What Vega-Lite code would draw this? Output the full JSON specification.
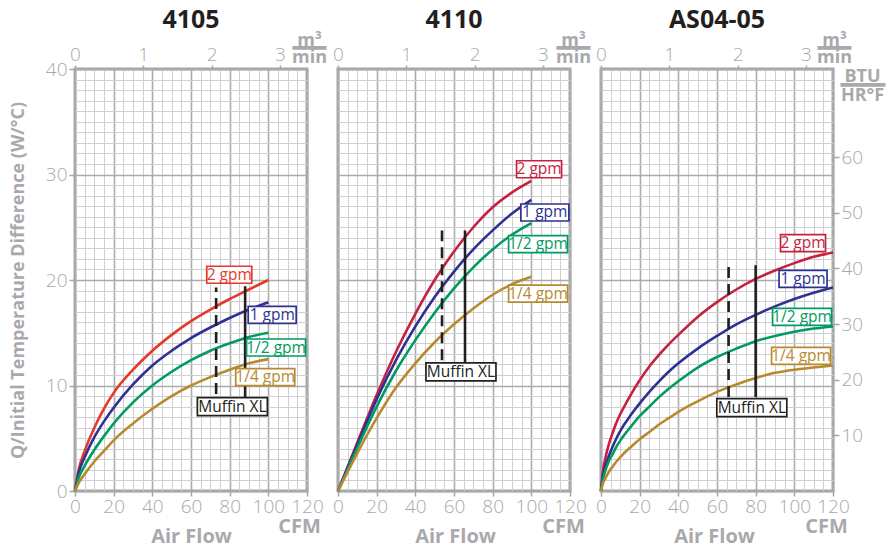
{
  "$schema": "https://vega.github.io/schema/vega-lite/v6.json",
  "padding": {"left": 7, "top": 6, "right": 5, "bottom": 5},
  "config": {
    "view": {"stroke": "#a6a6a9", "strokeWidth": 3},
    "font": "Open Sans"
  },
  "datasets": {
    "curves": [
      {"p":"4105","s":"2 gpm","cfm":0,"w":0},{"p":"4105","s":"2 gpm","cfm":2,"w":2.1},{"p":"4105","s":"2 gpm","cfm":5,"w":3.8},{"p":"4105","s":"2 gpm","cfm":10,"w":6.0},{"p":"4105","s":"2 gpm","cfm":15,"w":7.8},{"p":"4105","s":"2 gpm","cfm":20,"w":9.3},{"p":"4105","s":"2 gpm","cfm":30,"w":11.5},{"p":"4105","s":"2 gpm","cfm":40,"w":13.3},{"p":"4105","s":"2 gpm","cfm":50,"w":14.8},{"p":"4105","s":"2 gpm","cfm":60,"w":16.1},{"p":"4105","s":"2 gpm","cfm":70,"w":17.2},{"p":"4105","s":"2 gpm","cfm":80,"w":18.2},{"p":"4105","s":"2 gpm","cfm":90,"w":19.1},{"p":"4105","s":"2 gpm","cfm":100,"w":20.0},
      {"p":"4105","s":"1 gpm","cfm":0,"w":0},{"p":"4105","s":"1 gpm","cfm":2,"w":1.8},{"p":"4105","s":"1 gpm","cfm":5,"w":3.2},{"p":"4105","s":"1 gpm","cfm":10,"w":5.1},{"p":"4105","s":"1 gpm","cfm":15,"w":6.6},{"p":"4105","s":"1 gpm","cfm":20,"w":7.9},{"p":"4105","s":"1 gpm","cfm":30,"w":10.1},{"p":"4105","s":"1 gpm","cfm":40,"w":11.9},{"p":"4105","s":"1 gpm","cfm":50,"w":13.3},{"p":"4105","s":"1 gpm","cfm":60,"w":14.5},{"p":"4105","s":"1 gpm","cfm":70,"w":15.5},{"p":"4105","s":"1 gpm","cfm":80,"w":16.4},{"p":"4105","s":"1 gpm","cfm":90,"w":17.2},{"p":"4105","s":"1 gpm","cfm":100,"w":17.9},
      {"p":"4105","s":"1/2 gpm","cfm":0,"w":0},{"p":"4105","s":"1/2 gpm","cfm":2,"w":1.3},{"p":"4105","s":"1/2 gpm","cfm":5,"w":2.4},{"p":"4105","s":"1/2 gpm","cfm":10,"w":3.9},{"p":"4105","s":"1/2 gpm","cfm":15,"w":5.2},{"p":"4105","s":"1/2 gpm","cfm":20,"w":6.4},{"p":"4105","s":"1/2 gpm","cfm":30,"w":8.4},{"p":"4105","s":"1/2 gpm","cfm":40,"w":10.0},{"p":"4105","s":"1/2 gpm","cfm":50,"w":11.3},{"p":"4105","s":"1/2 gpm","cfm":60,"w":12.4},{"p":"4105","s":"1/2 gpm","cfm":70,"w":13.3},{"p":"4105","s":"1/2 gpm","cfm":80,"w":14.0},{"p":"4105","s":"1/2 gpm","cfm":90,"w":14.6},{"p":"4105","s":"1/2 gpm","cfm":100,"w":15.0},
      {"p":"4105","s":"1/4 gpm","cfm":0,"w":0},{"p":"4105","s":"1/4 gpm","cfm":2,"w":0.8},{"p":"4105","s":"1/4 gpm","cfm":5,"w":1.6},{"p":"4105","s":"1/4 gpm","cfm":10,"w":2.8},{"p":"4105","s":"1/4 gpm","cfm":15,"w":3.8},{"p":"4105","s":"1/4 gpm","cfm":20,"w":4.8},{"p":"4105","s":"1/4 gpm","cfm":30,"w":6.4},{"p":"4105","s":"1/4 gpm","cfm":40,"w":7.8},{"p":"4105","s":"1/4 gpm","cfm":50,"w":9.0},{"p":"4105","s":"1/4 gpm","cfm":60,"w":10.0},{"p":"4105","s":"1/4 gpm","cfm":70,"w":10.8},{"p":"4105","s":"1/4 gpm","cfm":80,"w":11.5},{"p":"4105","s":"1/4 gpm","cfm":90,"w":12.1},{"p":"4105","s":"1/4 gpm","cfm":100,"w":12.5},
      {"p":"4110","s":"2 gpm","cfm":0,"w":0},{"p":"4110","s":"2 gpm","cfm":10,"w":4.6},{"p":"4110","s":"2 gpm","cfm":20,"w":9.1},{"p":"4110","s":"2 gpm","cfm":30,"w":13.2},{"p":"4110","s":"2 gpm","cfm":40,"w":16.8},{"p":"4110","s":"2 gpm","cfm":50,"w":20.0},{"p":"4110","s":"2 gpm","cfm":60,"w":22.7},{"p":"4110","s":"2 gpm","cfm":70,"w":25.0},{"p":"4110","s":"2 gpm","cfm":80,"w":26.9},{"p":"4110","s":"2 gpm","cfm":90,"w":28.3},{"p":"4110","s":"2 gpm","cfm":100,"w":29.4},
      {"p":"4110","s":"1 gpm","cfm":0,"w":0},{"p":"4110","s":"1 gpm","cfm":10,"w":4.4},{"p":"4110","s":"1 gpm","cfm":20,"w":8.7},{"p":"4110","s":"1 gpm","cfm":30,"w":12.4},{"p":"4110","s":"1 gpm","cfm":40,"w":15.6},{"p":"4110","s":"1 gpm","cfm":50,"w":18.4},{"p":"4110","s":"1 gpm","cfm":60,"w":20.8},{"p":"4110","s":"1 gpm","cfm":70,"w":22.9},{"p":"4110","s":"1 gpm","cfm":80,"w":24.7},{"p":"4110","s":"1 gpm","cfm":90,"w":26.3},{"p":"4110","s":"1 gpm","cfm":100,"w":27.6},
      {"p":"4110","s":"1/2 gpm","cfm":0,"w":0},{"p":"4110","s":"1/2 gpm","cfm":10,"w":4.1},{"p":"4110","s":"1/2 gpm","cfm":20,"w":8.0},{"p":"4110","s":"1/2 gpm","cfm":30,"w":11.4},{"p":"4110","s":"1/2 gpm","cfm":40,"w":14.3},{"p":"4110","s":"1/2 gpm","cfm":50,"w":16.9},{"p":"4110","s":"1/2 gpm","cfm":60,"w":19.2},{"p":"4110","s":"1/2 gpm","cfm":70,"w":21.2},{"p":"4110","s":"1/2 gpm","cfm":80,"w":22.9},{"p":"4110","s":"1/2 gpm","cfm":90,"w":24.3},{"p":"4110","s":"1/2 gpm","cfm":100,"w":25.4},
      {"p":"4110","s":"1/4 gpm","cfm":0,"w":0},{"p":"4110","s":"1/4 gpm","cfm":10,"w":3.6},{"p":"4110","s":"1/4 gpm","cfm":20,"w":6.9},{"p":"4110","s":"1/4 gpm","cfm":30,"w":9.8},{"p":"4110","s":"1/4 gpm","cfm":40,"w":12.1},{"p":"4110","s":"1/4 gpm","cfm":50,"w":14.1},{"p":"4110","s":"1/4 gpm","cfm":60,"w":15.8},{"p":"4110","s":"1/4 gpm","cfm":70,"w":17.3},{"p":"4110","s":"1/4 gpm","cfm":80,"w":18.6},{"p":"4110","s":"1/4 gpm","cfm":90,"w":19.6},{"p":"4110","s":"1/4 gpm","cfm":100,"w":20.3},
      {"p":"AS04-05","s":"2 gpm","cfm":0,"w":0},{"p":"AS04-05","s":"2 gpm","cfm":1,"w":1.9},{"p":"AS04-05","s":"2 gpm","cfm":2,"w":2.9},{"p":"AS04-05","s":"2 gpm","cfm":4,"w":4.4},{"p":"AS04-05","s":"2 gpm","cfm":6,"w":5.5},{"p":"AS04-05","s":"2 gpm","cfm":8,"w":6.5},{"p":"AS04-05","s":"2 gpm","cfm":10,"w":7.3},{"p":"AS04-05","s":"2 gpm","cfm":12,"w":8.0},{"p":"AS04-05","s":"2 gpm","cfm":15,"w":9.0},{"p":"AS04-05","s":"2 gpm","cfm":20,"w":10.5},{"p":"AS04-05","s":"2 gpm","cfm":25,"w":11.8},{"p":"AS04-05","s":"2 gpm","cfm":30,"w":12.9},{"p":"AS04-05","s":"2 gpm","cfm":35,"w":13.9},{"p":"AS04-05","s":"2 gpm","cfm":40,"w":14.8},{"p":"AS04-05","s":"2 gpm","cfm":50,"w":16.5},{"p":"AS04-05","s":"2 gpm","cfm":60,"w":17.9},{"p":"AS04-05","s":"2 gpm","cfm":70,"w":19.1},{"p":"AS04-05","s":"2 gpm","cfm":80,"w":20.1},{"p":"AS04-05","s":"2 gpm","cfm":90,"w":20.9},{"p":"AS04-05","s":"2 gpm","cfm":100,"w":21.6},{"p":"AS04-05","s":"2 gpm","cfm":110,"w":22.2},{"p":"AS04-05","s":"2 gpm","cfm":120,"w":22.6},
      {"p":"AS04-05","s":"1 gpm","cfm":0,"w":0},{"p":"AS04-05","s":"1 gpm","cfm":1,"w":1.4},{"p":"AS04-05","s":"1 gpm","cfm":2,"w":2.2},{"p":"AS04-05","s":"1 gpm","cfm":4,"w":3.3},{"p":"AS04-05","s":"1 gpm","cfm":6,"w":4.2},{"p":"AS04-05","s":"1 gpm","cfm":8,"w":5.0},{"p":"AS04-05","s":"1 gpm","cfm":10,"w":5.7},{"p":"AS04-05","s":"1 gpm","cfm":12,"w":6.3},{"p":"AS04-05","s":"1 gpm","cfm":15,"w":7.1},{"p":"AS04-05","s":"1 gpm","cfm":20,"w":8.3},{"p":"AS04-05","s":"1 gpm","cfm":25,"w":9.4},{"p":"AS04-05","s":"1 gpm","cfm":30,"w":10.4},{"p":"AS04-05","s":"1 gpm","cfm":35,"w":11.3},{"p":"AS04-05","s":"1 gpm","cfm":40,"w":12.1},{"p":"AS04-05","s":"1 gpm","cfm":50,"w":13.5},{"p":"AS04-05","s":"1 gpm","cfm":60,"w":14.7},{"p":"AS04-05","s":"1 gpm","cfm":70,"w":15.8},{"p":"AS04-05","s":"1 gpm","cfm":80,"w":16.7},{"p":"AS04-05","s":"1 gpm","cfm":90,"w":17.5},{"p":"AS04-05","s":"1 gpm","cfm":100,"w":18.2},{"p":"AS04-05","s":"1 gpm","cfm":110,"w":18.8},{"p":"AS04-05","s":"1 gpm","cfm":120,"w":19.3},
      {"p":"AS04-05","s":"1/2 gpm","cfm":0,"w":0},{"p":"AS04-05","s":"1/2 gpm","cfm":1,"w":1.1},{"p":"AS04-05","s":"1/2 gpm","cfm":2,"w":1.8},{"p":"AS04-05","s":"1/2 gpm","cfm":4,"w":2.8},{"p":"AS04-05","s":"1/2 gpm","cfm":6,"w":3.5},{"p":"AS04-05","s":"1/2 gpm","cfm":8,"w":4.2},{"p":"AS04-05","s":"1/2 gpm","cfm":10,"w":4.8},{"p":"AS04-05","s":"1/2 gpm","cfm":12,"w":5.3},{"p":"AS04-05","s":"1/2 gpm","cfm":15,"w":6.0},{"p":"AS04-05","s":"1/2 gpm","cfm":20,"w":7.1},{"p":"AS04-05","s":"1/2 gpm","cfm":25,"w":8.0},{"p":"AS04-05","s":"1/2 gpm","cfm":30,"w":8.9},{"p":"AS04-05","s":"1/2 gpm","cfm":35,"w":9.7},{"p":"AS04-05","s":"1/2 gpm","cfm":40,"w":10.4},{"p":"AS04-05","s":"1/2 gpm","cfm":50,"w":11.7},{"p":"AS04-05","s":"1/2 gpm","cfm":60,"w":12.7},{"p":"AS04-05","s":"1/2 gpm","cfm":70,"w":13.5},{"p":"AS04-05","s":"1/2 gpm","cfm":80,"w":14.2},{"p":"AS04-05","s":"1/2 gpm","cfm":90,"w":14.7},{"p":"AS04-05","s":"1/2 gpm","cfm":100,"w":15.1},{"p":"AS04-05","s":"1/2 gpm","cfm":110,"w":15.4},{"p":"AS04-05","s":"1/2 gpm","cfm":120,"w":15.6},
      {"p":"AS04-05","s":"1/4 gpm","cfm":0,"w":0},{"p":"AS04-05","s":"1/4 gpm","cfm":1,"w":0.7},{"p":"AS04-05","s":"1/4 gpm","cfm":2,"w":1.1},{"p":"AS04-05","s":"1/4 gpm","cfm":4,"w":1.8},{"p":"AS04-05","s":"1/4 gpm","cfm":6,"w":2.3},{"p":"AS04-05","s":"1/4 gpm","cfm":8,"w":2.8},{"p":"AS04-05","s":"1/4 gpm","cfm":10,"w":3.2},{"p":"AS04-05","s":"1/4 gpm","cfm":12,"w":3.6},{"p":"AS04-05","s":"1/4 gpm","cfm":15,"w":4.1},{"p":"AS04-05","s":"1/4 gpm","cfm":20,"w":4.9},{"p":"AS04-05","s":"1/4 gpm","cfm":25,"w":5.6},{"p":"AS04-05","s":"1/4 gpm","cfm":30,"w":6.3},{"p":"AS04-05","s":"1/4 gpm","cfm":35,"w":6.9},{"p":"AS04-05","s":"1/4 gpm","cfm":40,"w":7.5},{"p":"AS04-05","s":"1/4 gpm","cfm":50,"w":8.5},{"p":"AS04-05","s":"1/4 gpm","cfm":60,"w":9.4},{"p":"AS04-05","s":"1/4 gpm","cfm":70,"w":10.1},{"p":"AS04-05","s":"1/4 gpm","cfm":80,"w":10.7},{"p":"AS04-05","s":"1/4 gpm","cfm":90,"w":11.2},{"p":"AS04-05","s":"1/4 gpm","cfm":100,"w":11.5},{"p":"AS04-05","s":"1/4 gpm","cfm":110,"w":11.7},{"p":"AS04-05","s":"1/4 gpm","cfm":120,"w":11.9}
    ],
    "labels": [
      {"p":"4105","s":"2 gpm","cfm":79.8,"w":20.5},{"p":"4105","s":"1 gpm","cfm":102,"w":16.7},{"p":"4105","s":"1/2 gpm","cfm":104,"w":13.6},{"p":"4105","s":"1/4 gpm","cfm":98.4,"w":10.8},{"p":"4105","s":"Muffin XL","cfm":81.4,"w":8.0},
      {"p":"4110","s":"2 gpm","cfm":104,"w":30.5},{"p":"4110","s":"1 gpm","cfm":107,"w":26.4},{"p":"4110","s":"1/2 gpm","cfm":103.5,"w":23.4},{"p":"4110","s":"1/4 gpm","cfm":103.5,"w":18.7},{"p":"4110","s":"Muffin XL","cfm":63.6,"w":11.3},
      {"p":"AS04-05","s":"2 gpm","cfm":104.5,"w":23.5},{"p":"AS04-05","s":"1 gpm","cfm":104.5,"w":20.1},{"p":"AS04-05","s":"1/2 gpm","cfm":104,"w":16.5},{"p":"AS04-05","s":"1/4 gpm","cfm":103.5,"w":12.8},{"p":"AS04-05","s":"Muffin XL","cfm":78,"w":7.9}
    ],
    "muffin": [
      {"p":"4105","kind":"dashed","cfm":73,"lo":9.2,"hi":19.3},{"p":"4105","kind":"solid","cfm":88,"lo":8.9,"hi":19.4},
      {"p":"4110","kind":"dashed","cfm":53.8,"lo":12.4,"hi":24.7},{"p":"4110","kind":"solid","cfm":65.7,"lo":12.1,"hi":24.7},
      {"p":"AS04-05","kind":"dashed","cfm":66,"lo":8.9,"hi":21.4},{"p":"AS04-05","kind":"solid","cfm":80,"lo":8.9,"hi":21.4}
    ]
  },
  "hconcat": [
    {
      "width": 232, "height": 422,
      "title": {"text": "4105", "fontSize": 25, "fontWeight": "bold", "color": "#231f20", "font": "Open Sans", "offset": -2},
      "layer": [
        {
          "data": {"name": "curves"},
          "transform": [{"filter": "datum.p === '4105'"}],
          "mark": {"type": "line", "strokeWidth": 2.6, "interpolate": "monotone"},
          "encoding": {
            "x": {"field": "cfm", "type": "quantitative", "scale": {"domain": [0, 120], "nice": false, "zero": false},
              "axis": {"orient": "bottom", "values": [0,5,10,15,20,25,30,35,40,45,50,55,60,65,70,75,80,85,90,95,100,105,110,115,120],
                "labelExpr": "datum.value % 20 === 0 ? datum.label : ''", "grid": true,
                "gridColor": {"condition": {"test": "datum.value % 20 === 0", "value": "#ababad"}, "value": "#cfcfd1"},
                "gridWidth": {"condition": {"test": "datum.value % 20 === 0", "value": 1.6}, "value": 1},
                "tickColor": {"condition": {"test": "datum.value % 20 === 0", "value": "#a6a6a9"}, "value": "transparent"},
                "tickSize": 5, "tickWidth": 1.5, "domain": false,
                "labelFont": "Open Sans", "labelFontSize": 19, "labelFontWeight": 300, "labelColor": "#a9a9ab", "labelPadding": 1, "labelFlush": false, "labelOverlap": false, "labelBound": false,
                "title": "Air Flow", "titleFont": "Open Sans", "titleFontSize": 20, "titleFontWeight": "bold", "titleColor": "#a9a9ab", "titleX": 116, "titleY": 45, "titleBaseline": "middle", "titleAlign": "center"}},
            "y": {"field": "w", "type": "quantitative", "scale": {"domain": [0, 40], "nice": false},
              "axis": {"orient": "left", "values": [0,1,2,3,4,5,6,7,8,9,10,11,12,13,14,15,16,17,18,19,20,21,22,23,24,25,26,27,28,29,30,31,32,33,34,35,36,37,38,39,40],
                "labelExpr": "datum.value % 10 === 0 ? datum.label : ''", "grid": true,
                "gridColor": {"condition": {"test": "datum.value % 10 === 0", "value": "#ababad"}, "value": "#cfcfd1"},
                "gridWidth": {"condition": {"test": "datum.value % 10 === 0", "value": 1.6}, "value": 1},
                "tickColor": {"condition": {"test": "datum.value % 10 === 0", "value": "#a6a6a9"}, "value": "transparent"},
                "tickSize": 6, "tickWidth": 1.5, "domain": false,
                "labelFont": "Open Sans", "labelFontSize": 19, "labelFontWeight": 300, "labelColor": "#a9a9ab", "labelPadding": 2, "labelFlush": false, "labelOverlap": false, "labelBound": false,
                "title": "Q/Initial Temperature Difference (W/°C)", "titleLimit": 600, "titleFont": "Open Sans", "titleFontSize": 18, "titleFontWeight": "bold", "titleColor": "#a9a9ab", "titleX": -57, "titleY": 211, "titleBaseline": "middle", "titleAlign": "center", "titleAngle": -90}},
            "color": {"field": "s", "type": "nominal", "legend": null,
              "scale": {"domain": ["2 gpm","1 gpm","1/2 gpm","1/4 gpm","Muffin XL"], "range": ["#e5392b","#2f3192","#009a62","#b88a2f","#231f20"]}}
          }
        },
        {
          "data": {"name": "muffin"},
          "transform": [{"filter": "datum.p === '4105'"}],
          "mark": {"type": "rule", "color": "#231f20", "strokeWidth": 2.6},
          "encoding": {
            "x": {"field": "cfm", "type": "quantitative",
              "axis": {"orient": "top", "values": [0, 35.3147, 70.6294, 105.9441], "labelExpr": "format(round(datum.value/35.3147), 'd')",
                "grid": false, "domain": false, "tickSize": 4, "tickWidth": 1.5, "tickColor": "#a6a6a9",
                "labelFont": "Open Sans", "labelFontSize": 19, "labelFontWeight": 300, "labelColor": "#a9a9ab", "labelPadding": 1, "labelFlush": false, "labelOverlap": false, "labelBound": false,
                "title": ["m³", "━━━", "min"], "titleFont": "Open Sans", "titleFontSize": 18, "titleFontWeight": "bold", "titleColor": "#a9a9ab", "titleLineHeight": 8.65, "titleX": 234, "titleY": -24, "titleBaseline": "alphabetic", "titleAlign": "center", "titleAngle": 0}},
            "y": {"field": "lo", "type": "quantitative", "axis": null},
            "y2": {"field": "hi"},
            "strokeDash": {"field": "kind", "type": "nominal", "legend": null, "scale": {"domain": ["dashed","solid"], "range": [[11,6],[1,0]]}}
          }
        },
        {
          "data": {"name": "labels"},
          "transform": [{"filter": "datum.p === '4105'"}],
          "mark": {"type": "point", "filled": false, "fill": "white", "fillOpacity": 1, "opacity": 1, "strokeWidth": 1.7, "size": 400},
          "encoding": {
            "x": {"field": "cfm", "type": "quantitative", "axis": null},
            "y": {"field": "w", "type": "quantitative", "axis": null},
            "color": {"field": "s", "type": "nominal", "legend": null},
            "shape": {"field": "s", "type": "nominal", "legend": null,
              "scale": {"domain": ["2 gpm","1 gpm","1/2 gpm","1/4 gpm","Muffin XL"], "range": ["M-2.25,-0.85H2.25V0.85H-2.25Z","M-2.4,-0.85H2.4V0.85H-2.4Z","M-2.95,-0.85H2.95V0.85H-2.95Z","M-2.95,-0.85H2.95V0.85H-2.95Z","M-3.5,-0.9H3.5V0.9H-3.5Z"]}}
          }
        },
        {
          "data": {"name": "labels"},
          "transform": [{"filter": "datum.p === '4105'"}],
          "mark": {"type": "text", "font": "Open Sans", "fontSize": 15.5, "fontWeight": 500, "baseline": "middle", "align": "center"},
          "encoding": {
            "x": {"field": "cfm", "type": "quantitative",
              "axis": {"orient": "bottom", "labels": false, "ticks": false, "domain": false, "grid": false,
                "title": "CFM", "titleFont": "Open Sans", "titleFontSize": 20, "titleFontWeight": "bold", "titleColor": "#a9a9ab", "titleX": 224, "titleY": 35, "titleBaseline": "middle", "titleAlign": "center"}},
            "y": {"field": "w", "type": "quantitative", "axis": null},
            "text": {"field": "s"},
            "color": {"field": "s", "type": "nominal", "legend": null}
          }
        }
      ],
      "resolve": {"axis": {"x": "independent", "y": "independent"}}
    },
    {
      "width": 232, "height": 422,
      "title": {"text": "4110", "fontSize": 25, "fontWeight": "bold", "color": "#231f20", "font": "Open Sans", "offset": -2},
      "layer": [
        {
          "data": {"name": "curves"},
          "transform": [{"filter": "datum.p === '4110'"}],
          "mark": {"type": "line", "strokeWidth": 2.6, "interpolate": "monotone"},
          "encoding": {
            "x": {"field": "cfm", "type": "quantitative", "scale": {"domain": [0, 120], "nice": false, "zero": false},
              "axis": {"orient": "bottom", "values": [0,5,10,15,20,25,30,35,40,45,50,55,60,65,70,75,80,85,90,95,100,105,110,115,120],
                "labelExpr": "datum.value % 20 === 0 ? datum.label : ''", "grid": true,
                "gridColor": {"condition": {"test": "datum.value % 20 === 0", "value": "#ababad"}, "value": "#cfcfd1"},
                "gridWidth": {"condition": {"test": "datum.value % 20 === 0", "value": 1.6}, "value": 1},
                "tickColor": {"condition": {"test": "datum.value % 20 === 0", "value": "#a6a6a9"}, "value": "transparent"},
                "tickSize": 5, "tickWidth": 1.5, "domain": false,
                "labelFont": "Open Sans", "labelFontSize": 19, "labelFontWeight": 300, "labelColor": "#a9a9ab", "labelPadding": 1, "labelFlush": false, "labelOverlap": false, "labelBound": false,
                "title": "Air Flow", "titleFont": "Open Sans", "titleFontSize": 20, "titleFontWeight": "bold", "titleColor": "#a9a9ab", "titleX": 117, "titleY": 45, "titleBaseline": "middle", "titleAlign": "center"}},
            "y": {"field": "w", "type": "quantitative", "scale": {"domain": [0, 40], "nice": false},
              "axis": {"orient": "left", "values": [0,1,2,3,4,5,6,7,8,9,10,11,12,13,14,15,16,17,18,19,20,21,22,23,24,25,26,27,28,29,30,31,32,33,34,35,36,37,38,39,40],
                "labels": false, "ticks": false, "domain": false, "title": null, "grid": true,
                "gridColor": {"condition": {"test": "datum.value % 10 === 0", "value": "#ababad"}, "value": "#cfcfd1"},
                "gridWidth": {"condition": {"test": "datum.value % 10 === 0", "value": 1.6}, "value": 1}}},
            "color": {"field": "s", "type": "nominal", "legend": null,
              "scale": {"domain": ["2 gpm","1 gpm","1/2 gpm","1/4 gpm","Muffin XL"], "range": ["#c52240","#2f3192","#009a62","#b88a2f","#231f20"]}}
          }
        },
        {
          "data": {"name": "muffin"},
          "transform": [{"filter": "datum.p === '4110'"}],
          "mark": {"type": "rule", "color": "#231f20", "strokeWidth": 2.6},
          "encoding": {
            "x": {"field": "cfm", "type": "quantitative",
              "axis": {"orient": "top", "values": [0, 35.3147, 70.6294, 105.9441], "labelExpr": "format(round(datum.value/35.3147), 'd')",
                "grid": false, "domain": false, "tickSize": 4, "tickWidth": 1.5, "tickColor": "#a6a6a9",
                "labelFont": "Open Sans", "labelFontSize": 19, "labelFontWeight": 300, "labelColor": "#a9a9ab", "labelPadding": 1, "labelFlush": false, "labelOverlap": false, "labelBound": false,
                "title": ["m³", "━━━", "min"], "titleFont": "Open Sans", "titleFontSize": 18, "titleFontWeight": "bold", "titleColor": "#a9a9ab", "titleLineHeight": 8.65, "titleX": 235, "titleY": -24, "titleBaseline": "alphabetic", "titleAlign": "center", "titleAngle": 0}},
            "y": {"field": "lo", "type": "quantitative", "axis": null},
            "y2": {"field": "hi"},
            "strokeDash": {"field": "kind", "type": "nominal", "legend": null, "scale": {"domain": ["dashed","solid"], "range": [[11,6],[1,0]]}}
          }
        },
        {
          "data": {"name": "labels"},
          "transform": [{"filter": "datum.p === '4110'"}],
          "mark": {"type": "point", "filled": false, "fill": "white", "fillOpacity": 1, "opacity": 1, "strokeWidth": 1.7, "size": 400},
          "encoding": {
            "x": {"field": "cfm", "type": "quantitative", "axis": null},
            "y": {"field": "w", "type": "quantitative", "axis": null},
            "color": {"field": "s", "type": "nominal", "legend": null},
            "shape": {"field": "s", "type": "nominal", "legend": null,
              "scale": {"domain": ["2 gpm","1 gpm","1/2 gpm","1/4 gpm","Muffin XL"], "range": ["M-2.25,-0.85H2.25V0.85H-2.25Z","M-2.4,-0.85H2.4V0.85H-2.4Z","M-2.95,-0.85H2.95V0.85H-2.95Z","M-2.95,-0.85H2.95V0.85H-2.95Z","M-3.5,-0.9H3.5V0.9H-3.5Z"]}}
          }
        },
        {
          "data": {"name": "labels"},
          "transform": [{"filter": "datum.p === '4110'"}],
          "mark": {"type": "text", "font": "Open Sans", "fontSize": 15.5, "fontWeight": 500, "baseline": "middle", "align": "center"},
          "encoding": {
            "x": {"field": "cfm", "type": "quantitative",
              "axis": {"orient": "bottom", "labels": false, "ticks": false, "domain": false, "grid": false,
                "title": "CFM", "titleFont": "Open Sans", "titleFontSize": 20, "titleFontWeight": "bold", "titleColor": "#a9a9ab", "titleX": 225, "titleY": 35, "titleBaseline": "middle", "titleAlign": "center"}},
            "y": {"field": "w", "type": "quantitative", "axis": null},
            "text": {"field": "s"},
            "color": {"field": "s", "type": "nominal", "legend": null}
          }
        }
      ],
      "resolve": {"axis": {"x": "independent", "y": "independent"}}
    },
    {
      "width": 232, "height": 422,
      "title": {"text": "AS04-05", "fontSize": 25, "fontWeight": "bold", "color": "#231f20", "font": "Open Sans", "offset": -2},
      "layer": [
        {
          "data": {"name": "curves"},
          "transform": [{"filter": "datum.p === 'AS04-05'"}],
          "mark": {"type": "line", "strokeWidth": 2.6, "interpolate": "monotone"},
          "encoding": {
            "x": {"field": "cfm", "type": "quantitative", "scale": {"domain": [0, 120], "nice": false, "zero": false},
              "axis": {"orient": "bottom", "values": [0,5,10,15,20,25,30,35,40,45,50,55,60,65,70,75,80,85,90,95,100,105,110,115,120],
                "labelExpr": "datum.value % 20 === 0 ? datum.label : ''", "grid": true,
                "gridColor": {"condition": {"test": "datum.value % 20 === 0", "value": "#ababad"}, "value": "#cfcfd1"},
                "gridWidth": {"condition": {"test": "datum.value % 20 === 0", "value": 1.6}, "value": 1},
                "tickColor": {"condition": {"test": "datum.value % 20 === 0", "value": "#a6a6a9"}, "value": "transparent"},
                "tickSize": 5, "tickWidth": 1.5, "domain": false,
                "labelFont": "Open Sans", "labelFontSize": 19, "labelFontWeight": 300, "labelColor": "#a9a9ab", "labelPadding": 1, "labelFlush": false, "labelOverlap": false, "labelBound": false,
                "title": "Air Flow", "titleFont": "Open Sans", "titleFontSize": 20, "titleFontWeight": "bold", "titleColor": "#a9a9ab", "titleX": 113, "titleY": 45, "titleBaseline": "middle", "titleAlign": "center"}},
            "y": {"field": "w", "type": "quantitative", "scale": {"domain": [0, 40], "nice": false},
              "axis": {"orient": "left", "values": [0,1,2,3,4,5,6,7,8,9,10,11,12,13,14,15,16,17,18,19,20,21,22,23,24,25,26,27,28,29,30,31,32,33,34,35,36,37,38,39,40],
                "labels": false, "ticks": false, "domain": false, "title": null, "grid": true,
                "gridColor": {"condition": {"test": "datum.value % 10 === 0", "value": "#ababad"}, "value": "#cfcfd1"},
                "gridWidth": {"condition": {"test": "datum.value % 10 === 0", "value": 1.6}, "value": 1}}},
            "color": {"field": "s", "type": "nominal", "legend": null,
              "scale": {"domain": ["2 gpm","1 gpm","1/2 gpm","1/4 gpm","Muffin XL"], "range": ["#c52240","#2f3192","#009a62","#b88a2f","#231f20"]}}
          }
        },
        {
          "data": {"name": "muffin"},
          "transform": [{"filter": "datum.p === 'AS04-05'"}],
          "mark": {"type": "rule", "color": "#231f20", "strokeWidth": 2.6},
          "encoding": {
            "x": {"field": "cfm", "type": "quantitative",
              "axis": {"orient": "top", "values": [0, 35.3147, 70.6294, 105.9441], "labelExpr": "format(round(datum.value/35.3147), 'd')",
                "grid": false, "domain": false, "tickSize": 4, "tickWidth": 1.5, "tickColor": "#a6a6a9",
                "labelFont": "Open Sans", "labelFontSize": 19, "labelFontWeight": 300, "labelColor": "#a9a9ab", "labelPadding": 1, "labelFlush": false, "labelOverlap": false, "labelBound": false,
                "title": ["m³", "━━━", "min"], "titleFont": "Open Sans", "titleFontSize": 18, "titleFontWeight": "bold", "titleColor": "#a9a9ab", "titleLineHeight": 8.65, "titleX": 233, "titleY": -24, "titleBaseline": "alphabetic", "titleAlign": "center", "titleAngle": 0}},
            "y": {"field": "lo", "type": "quantitative", "axis": null},
            "y2": {"field": "hi"},
            "strokeDash": {"field": "kind", "type": "nominal", "legend": null, "scale": {"domain": ["dashed","solid"], "range": [[11,6],[1,0]]}}
          }
        },
        {
          "data": {"name": "labels"},
          "transform": [{"filter": "datum.p === 'AS04-05'"}],
          "mark": {"type": "point", "filled": false, "fill": "white", "fillOpacity": 1, "opacity": 1, "strokeWidth": 1.7, "size": 400},
          "encoding": {
            "x": {"field": "cfm", "type": "quantitative", "axis": null},
            "y": {"field": "w", "type": "quantitative",
              "axis": {"orient": "right", "values": [5.2754, 10.5508, 15.8262, 21.1016, 26.377, 31.6524], "labelExpr": "format(round(datum.value*1.8956), 'd')",
                "grid": false, "domain": false, "tickSize": 6, "tickWidth": 1.5, "tickColor": "#a6a6a9",
                "labelFont": "Open Sans", "labelFontSize": 19, "labelFontWeight": 300, "labelColor": "#a9a9ab", "labelPadding": 2, "labelFlush": false, "labelOverlap": false, "labelBound": false,
                "title": ["BTU", "━━━━", "HR°F"], "titleFont": "Open Sans", "titleFontSize": 18, "titleFontWeight": "bold", "titleColor": "#a9a9ab", "titleLineHeight": 9.15, "titleX": 29, "titleY": 12.7, "titleBaseline": "alphabetic", "titleAlign": "center", "titleAngle": 0}},
            "color": {"field": "s", "type": "nominal", "legend": null},
            "shape": {"field": "s", "type": "nominal", "legend": null,
              "scale": {"domain": ["2 gpm","1 gpm","1/2 gpm","1/4 gpm","Muffin XL"], "range": ["M-2.25,-0.85H2.25V0.85H-2.25Z","M-2.4,-0.85H2.4V0.85H-2.4Z","M-2.95,-0.85H2.95V0.85H-2.95Z","M-2.95,-0.85H2.95V0.85H-2.95Z","M-3.5,-0.9H3.5V0.9H-3.5Z"]}}
          }
        },
        {
          "data": {"name": "labels"},
          "transform": [{"filter": "datum.p === 'AS04-05'"}],
          "mark": {"type": "text", "font": "Open Sans", "fontSize": 15.5, "fontWeight": 500, "baseline": "middle", "align": "center"},
          "encoding": {
            "x": {"field": "cfm", "type": "quantitative",
              "axis": {"orient": "bottom", "labels": false, "ticks": false, "domain": false, "grid": false,
                "title": "CFM", "titleFont": "Open Sans", "titleFontSize": 20, "titleFontWeight": "bold", "titleColor": "#a9a9ab", "titleX": 225, "titleY": 35, "titleBaseline": "middle", "titleAlign": "center"}},
            "y": {"field": "w", "type": "quantitative", "axis": null},
            "text": {"field": "s"},
            "color": {"field": "s", "type": "nominal", "legend": null}
          }
        }
      ],
      "resolve": {"axis": {"x": "independent", "y": "independent"}}
    }
  ],
  "spacing": 31,
  "bounds": "flush",
  "resolve": {"scale": {"color": "independent"}}
}
